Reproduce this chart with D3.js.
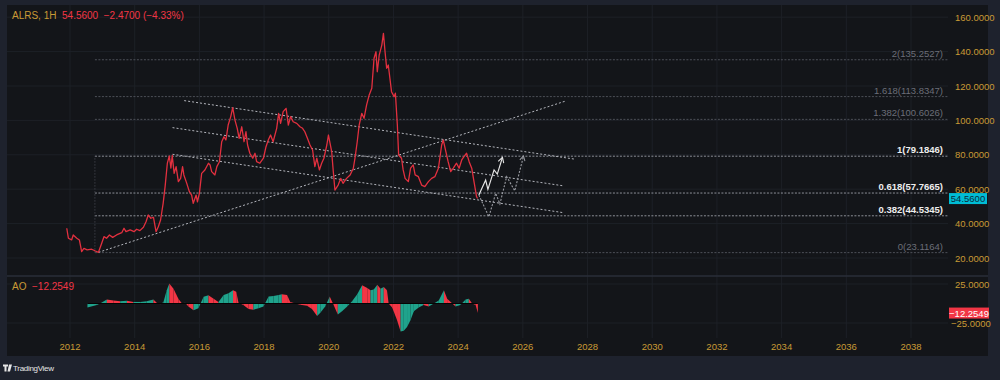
<html>
<head>
<title>ALRS</title>
<script src="https://cdn.jsdelivr.net/npm/d3@7/dist/d3.min.js"></script>
<style>
body { margin:0; background:#1e222d; }
text { font-family: "Liberation Sans", Arial, sans-serif; }
</style>
</head>
<body>
<script>

// price series (decimal year, price)
var priceDates = [2011.90,2011.95,2012.05,2012.10,2012.21,2012.29,2012.36,2012.43,2012.53,2012.67,2012.77,2012.88,2012.98,2013.05,2013.13,2013.22,2013.32,2013.44,2013.60,2013.67,2013.73,2013.86,2013.98,2014.06,2014.16,2014.27,2014.35,2014.42,2014.50,2014.58,2014.66,2014.73,2014.80,2014.88,2014.94,2015.01,2015.07,2015.12,2015.16,2015.22,2015.28,2015.35,2015.42,2015.48,2015.52,2015.61,2015.69,2015.76,2015.81,2015.90,2015.94,2016.00,2016.07,2016.17,2016.28,2016.33,2016.38,2016.48,2016.54,2016.62,2016.69,2016.76,2016.82,2016.89,2016.97,2017.03,2017.10,2017.17,2017.23,2017.31,2017.38,2017.44,2017.49,2017.56,2017.65,2017.72,2017.77,2017.87,2017.98,2018.06,2018.13,2018.20,2018.28,2018.39,2018.45,2018.51,2018.59,2018.68,2018.75,2018.82,2018.90,2019.01,2019.11,2019.19,2019.26,2019.34,2019.42,2019.50,2019.57,2019.63,2019.71,2019.78,2019.85,2019.94,2019.99,2020.09,2020.14,2020.19,2020.29,2020.37,2020.44,2020.55,2020.66,2020.76,2020.81,2020.88,2020.94,2021.02,2021.09,2021.17,2021.25,2021.33,2021.40,2021.46,2021.50,2021.56,2021.64,2021.69,2021.74,2021.79,2021.84,2021.89,2021.94,2022.02,2022.06,2022.12,2022.16,2022.25,2022.30,2022.36,2022.46,2022.53,2022.61,2022.67,2022.77,2022.87,2022.97,2023.08,2023.18,2023.28,2023.39,2023.49,2023.54,2023.62,2023.69,2023.77,2023.85,2023.95,2024.03,2024.11,2024.18,2024.26,2024.34,2024.42,2024.49,2024.57,2024.60];
var priceValues = [37.3,31.5,30.5,33.4,31.5,30.5,23.7,25.6,24.7,25.1,24.2,23.3,28.6,32.4,31.5,33.4,32.0,33.4,34.7,37.3,35.3,36.3,35.3,36.7,35.9,37.9,41.1,45.0,43.1,43.7,35.3,38.2,42.1,51.8,61.5,75.2,79.3,72.3,79.6,69.2,73.1,64.4,66.3,73.1,68.3,63.4,58.6,56.6,51.8,56.6,52.7,57.6,69.2,71.2,75.1,74.1,70.2,68.3,73.1,76.0,87.6,90.5,88.6,97.3,102.2,107.4,100.2,95.4,89.6,96.3,87.6,93.4,85.7,80.9,78.0,80.9,76.0,75.1,78.0,84.7,88.6,91.5,87.6,95.4,104.1,98.3,105.1,107.0,97.3,102.2,99.2,98.3,96.3,95.4,93.4,89.6,85.7,82.8,73.1,78.0,71.2,75.1,78.0,85.7,91.5,81.8,70.2,59.5,62.4,66.3,63.4,66.3,68.3,72.2,78.0,87.6,97.3,104.1,101.2,109.0,114.8,118.7,136.1,139.9,128.3,138.0,143.8,150.6,139.9,130.3,132.2,124.5,116.7,113.8,115.8,97.3,79.9,78.0,71.2,66.3,64.4,72.2,74.1,68.3,67.3,62.4,61.5,64.4,66.3,67.3,72.2,85.7,88.6,81.8,76.0,70.2,72.2,75.1,72.2,77.0,78.9,80.9,76.0,72.2,64.4,55.6,54.56];

// awesome oscillator
var aoDates = [2012.54,2012.83,2012.93,2013.14,2013.34,2013.55,2013.76,2013.96,2014.17,2014.37,2014.58,2014.68,2014.79,2014.89,2014.99,2015.07,2015.20,2015.35,2015.46,2015.56,2015.66,2015.82,2015.97,2016.13,2016.28,2016.44,2016.59,2016.75,2016.90,2017.04,2017.14,2017.21,2017.36,2017.52,2017.67,2017.83,2017.98,2018.14,2018.29,2018.45,2018.55,2018.71,2018.81,2018.97,2019.12,2019.33,2019.48,2019.64,2019.74,2019.89,2020.03,2020.15,2020.28,2020.41,2020.57,2020.72,2020.88,2021.03,2021.19,2021.29,2021.39,2021.50,2021.60,2021.70,2021.80,2021.85,2021.96,2022.11,2022.22,2022.32,2022.42,2022.53,2022.63,2022.78,2022.93,2023.09,2023.25,2023.40,2023.56,2023.66,2023.82,2023.92,2024.07,2024.23,2024.33,2024.43,2024.54,2024.61];
var aoValues = [-5,-2,0,5,4,3,3.5,2,2,3,5,1,-1,2,17,25.6,19,6,0,1,-4,-8.5,-6,8.5,10.5,6,2,11,13,17,15,1,-2,-7,-8,-6,-4,9,9.6,11,12,11,2,0,-1.5,-3,-7,-16,-12,-4,9,-2,-14,-10,-4,3,12,23.5,20,17,18,24,19,21,17,0,-5,-21,-36,-35,-30,-21,-10,-5,-2,-4,0,4,17,6,0,-4,-2,5,6,0,-2,-12.2549];

// fibonacci retracement
var fibLevels = ["0","0.382","0.618","1","1.382","1.618","2"];
var fibPrices = [23.1164,44.5345,57.7665,79.1846,100.6026,113.8347,135.2527];
var fibStart = 2012.77;

// drawings: [year, price]
var trendUp = [[2012.88,23.3],[2027.33,111.3]];
var channelTop = [[2015.53,111.5],[2027.63,77.4]];
var channelMid = [[2015.17,95.8],[2027.27,61.9]];
var channelLow = [[2015.17,80.3],[2027.27,46.3]];
var pathBull = [[2024.64,56.6],[2024.85,65.3],[2024.92,59.9],[2025.11,71.2],[2025.21,68.8],[2025.37,78.5]];
var pathAlt = [[2024.64,56.6],[2024.95,44.0],[2025.16,57.6],[2025.29,51.4],[2025.50,67.3],[2025.75,59.1],[2026.02,79.3]];

var yearTicks = [2012,2014,2016,2018,2020,2022,2024,2026,2028,2030,2032,2034,2036,2038];
var priceTicks = [20,40,60,80,100,120,140,160];
var aoTicks = [25,-25];

var lastPrice = 54.56, lastAO = -12.2549;

var gold = "#c99a35", red = "#f23645", green = "#1fa38c";

var svg = d3.select("body").append("svg").attr("width",1000).attr("height",380);
svg.append("rect").attr("width",1000).attr("height",380).attr("fill","#1e222d");
svg.append("rect").attr("x",7).attr("y",5).attr("width",981).attr("height",351).attr("fill","#131519");

var x = d3.scaleLinear().domain([2012,2038]).range([70,911]);
var y = d3.scaleLinear().domain([20,160]).range([258,17.2]);
var yAO = d3.scaleLinear().domain([-25,25]).range([323,284]);

var defs = svg.append("defs");
defs.append("clipPath").attr("id","pricePane").append("rect").attr("x",7).attr("y",5).attr("width",941).attr("height",270);
defs.append("marker").attr("id","arrW").attr("viewBox","0 0 10 10").attr("refX",8).attr("refY",5)
  .attr("markerWidth",6).attr("markerHeight",6).attr("orient","auto")
  .append("path").attr("d","M1,1 L8,5 L1,9").attr("fill","none").attr("stroke","#e6e6e6").attr("stroke-width",1.5);
defs.append("marker").attr("id","arrG").attr("viewBox","0 0 10 10").attr("refX",8).attr("refY",5)
  .attr("markerWidth",6).attr("markerHeight",6).attr("orient","auto")
  .append("path").attr("d","M1,1 L8,5 L1,9").attr("fill","none").attr("stroke","#9a9ca3").attr("stroke-width",1.5);

// grid
svg.append("g").selectAll("line").data(yearTicks).enter().append("line")
  .attr("x1",function(d){ return x(d);}).attr("x2",function(d){ return x(d);})
  .attr("y1",5).attr("y2",338).attr("stroke","#1d2027").attr("stroke-width",1);
svg.append("g").selectAll("line").data(priceTicks).enter().append("line")
  .attr("x1",7).attr("x2",948).attr("y1",function(d){ return y(d);}).attr("y2",function(d){ return y(d);})
  .attr("stroke","#1d2027").attr("stroke-width",1);
svg.append("g").selectAll("line").data(aoTicks).enter().append("line")
  .attr("x1",7).attr("x2",948).attr("y1",function(d){ return yAO(d);}).attr("y2",function(d){ return yAO(d);})
  .attr("stroke","#1d2027").attr("stroke-width",1);

// pane separator
svg.append("line").attr("x1",7).attr("x2",988).attr("y1",276).attr("y2",276).attr("stroke","#2a2e39").attr("stroke-width",1.5);

var pane = svg.append("g").attr("clip-path","url(#pricePane)");

// fib levels
var fibBright = ["0.382","0.618","1"];
pane.selectAll(".fib").data(fibPrices).enter().append("line").attr("class","fib")
  .attr("x1",x(fibStart)).attr("x2",948)
  .attr("y1",function(d){ return y(d);}).attr("y2",function(d){ return y(d);})
  .attr("stroke",function(d,i){ return fibBright.indexOf(fibLevels[i])>=0 ? "#8d9098" : "#4d5058";})
  .attr("stroke-width",1).attr("stroke-dasharray","2,1.5");
pane.append("line").attr("x1",x(fibStart)).attr("x2",x(fibStart)).attr("y1",y(fibPrices[0])).attr("y2",y(fibPrices[3]))
  .attr("stroke","#3a3d45").attr("stroke-width",1).attr("stroke-dasharray","1.5,1.5");
pane.selectAll(".fibtxt").data(fibPrices).enter().append("text").attr("class","fibtxt")
  .text(function(d,i){ return fibLevels[i]+"("+d.toFixed(4)+")";})
  .attr("x",943).attr("y",function(d){ return y(d)-3;}).attr("text-anchor","end").attr("font-size",9.5)
  .attr("font-weight",function(d,i){ return fibBright.indexOf(fibLevels[i])>=0 ? "bold" : "normal";})
  .attr("fill",function(d,i){ return fibBright.indexOf(fibLevels[i])>=0 ? "#eeeeee" : "#6b6e78";});

// trend lines and channel
var line = d3.line().x(function(d){ return x(d[0]);}).y(function(d){ return y(d[1]);});
[trendUp,channelTop,channelMid,channelLow].forEach(function(t){
  pane.append("path").attr("d",line(t)).attr("fill","none").attr("stroke","#b4b6bd")
    .attr("stroke-width",1).attr("stroke-dasharray","2,2");
});

// price
var pts = priceDates.map(function(d,i){ return [d,priceValues[i]];});
pane.append("path").attr("d",line(pts)).attr("fill","none").attr("stroke","#e2303f").attr("stroke-width",1.3).attr("stroke-linejoin","round");

// projections
pane.append("path").attr("d",line(pathAlt)).attr("fill","none").attr("stroke","#9a9ca3").attr("stroke-width",1.1)
  .attr("stroke-dasharray","2,1.5").attr("marker-end","url(#arrG)");
pane.append("path").attr("d",line(pathBull)).attr("fill","none").attr("stroke","#e6e6e6").attr("stroke-width",1.2)
  .attr("marker-end","url(#arrW)");

// AO histogram
var area = d3.area().x(function(d){ return x(d[0]);}).y0(yAO(0)).y1(function(d){ return yAO(d[1]);});
for(i=1;i<aoDates.length;i++)
{
  svg.append("path").attr("d",area([[aoDates[i-1],aoValues[i-1]],[aoDates[i],aoValues[i]]]))
    .attr("fill", aoValues[i]>=aoValues[i-1] ? green : red).attr("stroke","none");
}
svg.append("line").attr("x1",x(aoDates[0])).attr("x2",x(aoDates[aoDates.length-1]))
  .attr("y1",yAO(0)).attr("y2",yAO(0)).attr("stroke","#050505").attr("stroke-width",1);

// axes labels
svg.append("g").selectAll("text").data(priceTicks).enter().append("text")
  .text(function(d){ return d.toFixed(4);}).attr("x",955).attr("y",function(d){ return y(d)+3.5;})
  .attr("font-size",9.5).attr("fill",gold);
svg.append("g").selectAll("text").data(aoTicks).enter().append("text")
  .text(function(d){ return (d<0?"\u2212":"")+Math.abs(d).toFixed(4);}).attr("x",function(d){ return d<0?951:955;})
  .attr("y",function(d){ return yAO(d)+3.5;}).attr("font-size",9.5).attr("fill",gold);
svg.append("g").selectAll("text").data(yearTicks).enter().append("text")
  .text(function(d){ return d;}).attr("x",function(d){ return x(d);}).attr("y",350)
  .attr("text-anchor","middle").attr("font-size",9.5).attr("fill",gold);

// last value tags
svg.append("rect").attr("x",949).attr("y",y(lastPrice)-5.5).attr("width",38).attr("height",11).attr("fill","#00bcd4");
svg.append("text").text(lastPrice.toFixed(4)).attr("x",968).attr("y",y(lastPrice)+3.5).attr("text-anchor","middle")
  .attr("font-size",9.5).attr("fill","#0b2a3a");
svg.append("rect").attr("x",949).attr("y",yAO(lastAO)-5.5).attr("width",40).attr("height",11).attr("fill",red);
svg.append("text").text("\u2212"+Math.abs(lastAO).toFixed(4)).attr("x",969).attr("y",yAO(lastAO)+3.5).attr("text-anchor","middle")
  .attr("font-size",9.5).attr("fill","#ffffff");

// legends
var hdr = svg.append("text").attr("x",12).attr("y",19).attr("font-size",10);
hdr.append("tspan").text("ALRS, 1H").attr("fill",gold);
hdr.append("tspan").text("  54.5600  \u22122.4700 (\u22124.33%)").attr("fill",red).attr("xml:space","preserve");
var aoh = svg.append("text").attr("x",12).attr("y",290).attr("font-size",10).attr("xml:space","preserve");
aoh.append("tspan").text("AO").attr("fill",gold);
aoh.append("tspan").text("  \u221212.2549").attr("fill",red);

// tradingview mark
svg.append("path").attr("d","M3,364.5 h5 v2 h-1.5 v5 h-2 v-5 h-1.5 z M9,364.5 h3 l-2,7 h-2.5 z").attr("fill","#e6e6e6");
svg.append("text").text("TradingView").attr("x",13).attr("y",371).attr("font-size",8).attr("fill","#e6e6e6").attr("letter-spacing",-0.3);

</script>
</body>
</html>
